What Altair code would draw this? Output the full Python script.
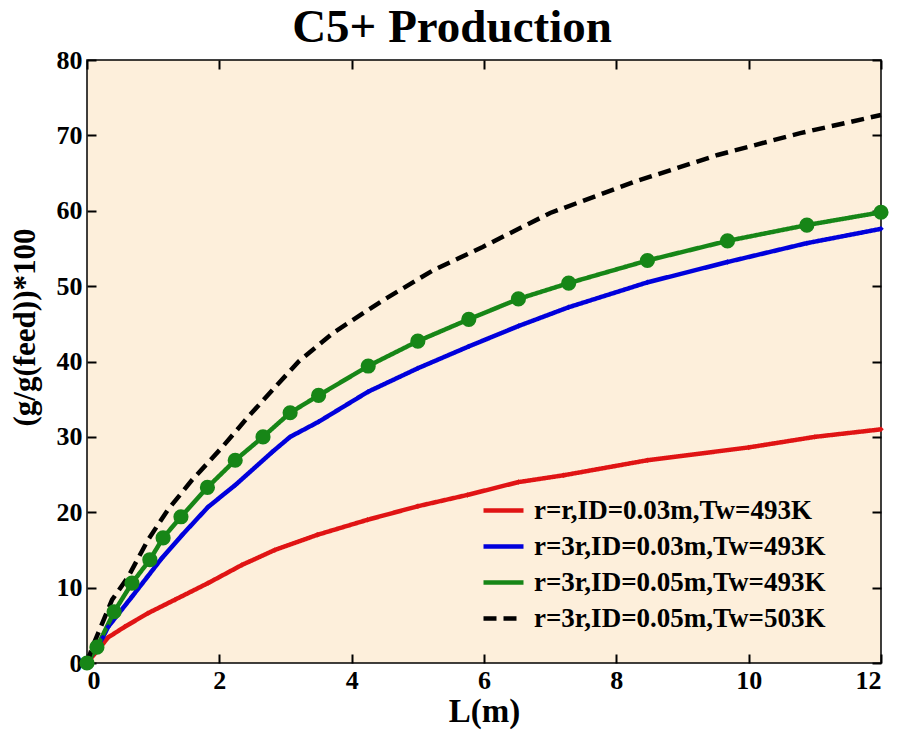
import altair as alt
import pandas as pd

series_names = [
    "r=r,ID=0.03m,Tw=493K",
    "r=3r,ID=0.03m,Tw=493K",
    "r=3r,ID=0.05m,Tw=493K",
    "r=3r,ID=0.05m,Tw=503K",
]
series_colors = ["#E01414", "#0000DC", "#178617", "#000000"]

red_L = [0, 0.2, 0.32, 0.57, 0.92, 1.33, 1.83, 2.34, 2.84, 3.48, 4.24, 5.0, 5.75, 6.52, 7.2, 8.47, 10.0, 11.0, 12.0]
red_y = [0, 2.1, 3.4, 4.8, 6.6, 8.4, 10.6, 13.0, 15.0, 17.0, 19.0, 20.8, 22.3, 24.0, 24.9, 26.9, 28.6, 30.0, 31.0]

blue_L = [0, 0.24, 0.32, 0.68, 0.91, 1.13, 1.44, 1.83, 2.24, 2.8, 3.07, 3.5, 4.25, 5.0, 5.77, 6.52, 7.28, 8.47, 9.68, 10.88, 12.0]
blue_y = [0, 3.4, 4.8, 8.8, 11.4, 13.9, 17.0, 20.7, 23.6, 28.0, 30.0, 32.0, 36.0, 39.1, 42.0, 44.7, 47.2, 50.5, 53.2, 55.7, 57.6]

green_L = [0, 0.15, 0.41, 0.68, 0.95, 1.15, 1.42, 1.82, 2.24, 2.66, 3.07, 3.5, 4.25, 5.0, 5.77, 6.52, 7.28, 8.47, 9.68, 10.88, 12.0]
green_y = [0, 2.1, 6.8, 10.6, 13.7, 16.6, 19.4, 23.3, 26.9, 30.0, 33.2, 35.5, 39.4, 42.7, 45.6, 48.3, 50.4, 53.4, 56.0, 58.1, 59.8]

black_L = [0, 0.08, 0.38, 0.62, 0.92, 1.22, 1.59, 2.04, 2.43, 2.8, 3.2, 3.72, 4.47, 5.23, 5.98, 7.0, 8.26, 9.53, 10.78, 12.0]
black_y = [0, 2.1, 8.4, 11.4, 16.3, 20.3, 24.3, 28.6, 32.6, 36.2, 40.0, 43.8, 48.1, 52.1, 55.2, 59.7, 63.8, 67.4, 70.3, 72.7]

x_ticks = [0, 2, 4, 6, 8, 10, 12]
y_ticks = [0, 10, 20, 30, 40, 50, 60, 70, 80]

rows = []
for name, Ls, vs in zip(series_names, [red_L, blue_L, green_L, black_L], [red_y, blue_y, green_y, black_y]):
    for l, v in zip(Ls, vs):
        rows.append({"L": l, "val": v, "series": name})
df = pd.DataFrame(rows)

FONT = "Liberation Serif"
W, H = 794, 603

xs = alt.Scale(domain=[0, 12], nice=False, zero=False)
ys = alt.Scale(domain=[0, 80], nice=False, zero=False)
color_scale = alt.Scale(domain=series_names, range=series_colors)
dash_scale = alt.Scale(domain=series_names, range=[[1, 0], [1, 0], [1, 0], [13, 7]])

x_bottom = alt.Axis(values=x_ticks, title="L(m)", grid=False, domain=False, tickSize=9, offset=-9,
                    tickColor="black", tickWidth=2, labelPadding=4, titlePadding=2, format="d")
y_left = alt.Axis(values=y_ticks, title="(g/g(feed))*100", grid=False, domain=False, tickSize=9, offset=-9,
                  tickColor="black", tickWidth=2, labelPadding=5, titleX=-55, titleY=267,
                  titleFontSize=31, format="d")
x_top = alt.Axis(values=x_ticks, orient="top", title=None, labels=False, grid=False, domain=False,
                 tickSize=9, offset=-9, tickColor="black", tickWidth=2)
y_right = alt.Axis(values=y_ticks, orient="right", title=None, labels=False, grid=False, domain=False,
                   tickSize=9, offset=-9, tickColor="black", tickWidth=2)

leg = alt.Legend(
    title=None, orient="none", legendX=394, legendY=428, symbolType="stroke", symbolSize=1600,
    symbolStrokeWidth=4.5, labelFont=FONT, labelFontSize=27, labelFontWeight="bold",
    labelColor="black", labelOffset=8, rowPadding=-10, padding=0, labelLimit=600,
)

base = alt.Chart(df)

lines = base.mark_line(strokeWidth=4.5).encode(
    x=alt.X("L:Q", scale=xs, axis=x_bottom),
    y=alt.Y("val:Q", scale=ys, axis=y_left),
    color=alt.Color("series:N", scale=color_scale, legend=leg),
    strokeDash=alt.StrokeDash("series:N", scale=dash_scale, legend=leg),
    order="L:Q",
)

small_pts = base.transform_filter(
    alt.FieldOneOfPredicate(field="series", oneOf=series_names[:2])
).mark_point(shape="diamond", filled=True, size=30, opacity=1).encode(
    x=alt.X("L:Q", scale=xs, axis=None),
    y=alt.Y("val:Q", scale=ys, axis=None),
    color=alt.Color("series:N", scale=color_scale, legend=None),
)

green_pts = base.transform_filter(
    alt.FieldEqualPredicate(field="series", equal=series_names[2])
).mark_circle(size=230, opacity=1).encode(
    x=alt.X("L:Q", scale=xs, axis=None),
    y=alt.Y("val:Q", scale=ys, axis=None),
    color=alt.Color("series:N", scale=color_scale, legend=None),
)

mirror = base.mark_point(opacity=0).encode(
    x=alt.X("L:Q", scale=xs, axis=x_top),
    y=alt.Y("val:Q", scale=ys, axis=y_right),
)

chart = alt.layer(lines, small_pts, green_pts, mirror).resolve_axis(
    x="independent", y="independent"
).properties(
    width=W,
    height=H,
    autosize=alt.AutoSizeParams(type="none"),
    padding={"left": 87, "top": 60, "right": 18, "bottom": 74},
    title=alt.TitleParams("C5+ Production", font=FONT, fontSize=47, fontWeight="bold", color="black",
                          dx=-32, dy=15, offset=10, anchor="middle"),
).configure_view(
    fill="#FDEFDB", stroke="black", strokeWidth=1.5
).configure_axis(
    labelFont=FONT, labelFontSize=26, labelFontWeight="bold", labelColor="black",
    titleFont=FONT, titleFontSize=33, titleFontWeight="bold", titleColor="black",
)

chart.save("out.html", embed_options={"renderer": "svg", "actions": False})
